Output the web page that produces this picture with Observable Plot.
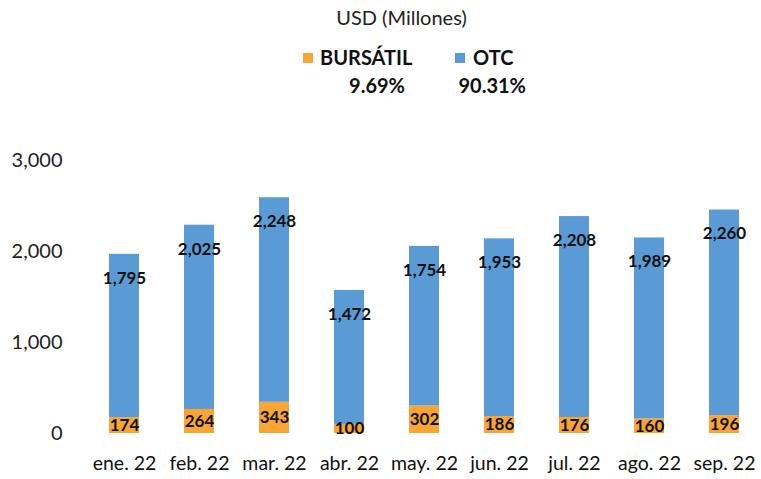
<!DOCTYPE html>
<html>
<head>
<meta charset="utf-8">
<script src="https://cdn.jsdelivr.net/npm/d3@7"></script>
<script src="https://cdn.jsdelivr.net/npm/@observablehq/plot@0.6"></script>
<style>
  html, body { margin: 0; padding: 0; background: #fff; }
  #wrap { position: relative; width: 761px; height: 479px; overflow: hidden; font-family: Lato, "Open Sans", sans-serif; }
  #header { position: relative; width: 761px; height: 130px; }
  .abs { position: absolute; white-space: nowrap; }
  .sw { position: absolute; width: 10px; height: 10px; }
  .leg { font-weight: bold; font-size: 20px; color: #111; }
</style>
</head>
<body>
<div id="wrap">
  <div id="header"></div>
  <div id="chart"></div>
</div>
<script>
const titleLine = "USD (Millones)";
const months = ["ene. 22", "feb. 22", "mar. 22", "abr. 22", "may. 22", "jun. 22", "jul. 22", "ago. 22", "sep. 22"];
const bursatil = [174, 264, 343, 100, 302, 186, 176, 160, 196];
const otc = [1795, 2025, 2248, 1472, 1754, 1953, 2208, 1989, 2260];
const seriesNames = ["BURSÁTIL", "OTC"];
const seriesShares = ["9.69%", "90.31%"];
const seriesColors = ["#F9A533", "#5B9BD5"];
const yTicks = [0, 1000, 2000, 3000];

// Header (title + legend)
const header = document.getElementById("header");
const t = document.createElement("div");
t.className = "abs";
t.textContent = titleLine;
t.style.cssText = "left:0;width:761px;text-align:center;top:5px;font-size:20px;color:#222;padding-left:42px;box-sizing:border-box;";
header.appendChild(t);

const legPos = [
  {sw: 303, name: 320, shareRight: 405},
  {sw: 455, name: 473, shareRight: 526}
];
seriesNames.forEach((name, i) => {
  const p = legPos[i];
  const s = document.createElement("div");
  s.className = "sw";
  s.style.left = p.sw + "px";
  s.style.top = "53px";
  s.style.background = seriesColors[i];
  header.appendChild(s);
  const n = document.createElement("div");
  n.className = "abs leg";
  n.textContent = name;
  n.style.left = p.name + "px";
  n.style.top = "45px";
  header.appendChild(n);
  const sh = document.createElement("div");
  sh.className = "abs leg";
  sh.textContent = seriesShares[i];
  sh.style.right = (761 - p.shareRight) + "px";
  sh.style.top = "73px";
  header.appendChild(sh);
});

// Data table
const data = [];
months.forEach((m, i) => data.push({month: m, series: seriesNames[0], value: bursatil[i]}));
months.forEach((m, i) => data.push({month: m, series: seriesNames[1], value: otc[i]}));
const fmt = d3.format(",d");

const chart = Plot.plot({
  width: 761,
  height: 349,
  marginTop: 30,
  marginBottom: 46,
  marginLeft: 91,
  marginRight: 4,
  style: {fontFamily: "Lato, 'Open Sans', sans-serif", background: "white"},
  x: {domain: months, paddingInner: 0.6, paddingOuter: 0.2, label: null},
  y: {domain: [0, 3000], label: null},
  color: {domain: seriesNames, range: seriesColors},
  marks: [
    Plot.axisY({ticks: yTicks, tickSize: 0, tickPadding: 29, tickFormat: fmt, fontSize: 20, fill: "#222", label: null}),
    Plot.axisX({tickSize: 0, tickPadding: 23, fontSize: 19.5, fill: "#111", label: null}),
    Plot.barY(data, {x: "month", y: "value", fill: "series", order: seriesNames}),
    Plot.text(data, Plot.stackY({x: "month", y: "value", z: "series", order: seriesNames, text: d => d.series === seriesNames[0] ? fmt(d.value) : null, fontSize: 17, fontWeight: "bold", fill: "#111"})),
    Plot.text(data, Plot.stackY2({x: "month", y: "value", z: "series", order: seriesNames, text: d => d.series === seriesNames[1] ? fmt(d.value) : null, dy: 24, fontSize: 17, fontWeight: "bold", fill: "#111"}))
  ]
});
document.getElementById("chart").appendChild(chart);
</script>
</body>
</html>
